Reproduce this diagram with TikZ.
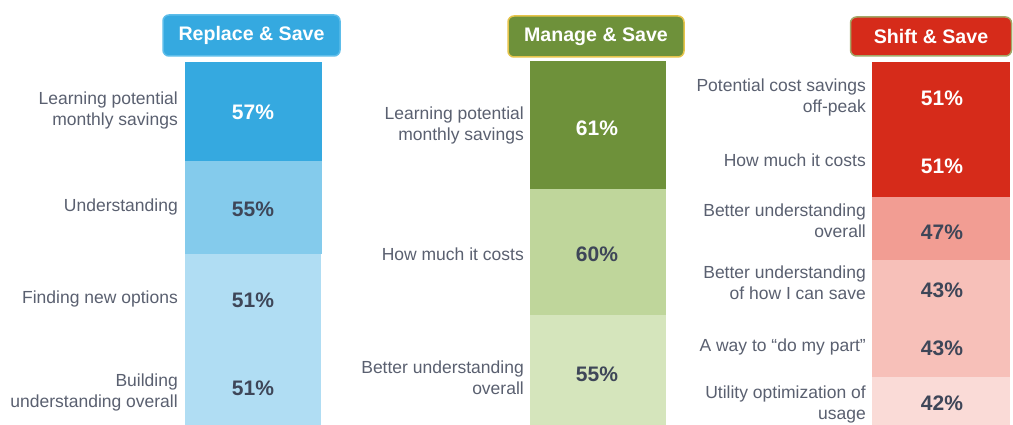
\documentclass[tikz,border=0pt]{standalone}
\usepackage{fontspec}
\setmainfont{Liberation Sans}
\definecolor{bdark}{HTML}{35A9E0}
\definecolor{bmed}{HTML}{84CBEC}
\definecolor{blight}{HTML}{B0DDF3}
\definecolor{bborder}{HTML}{5DBDEA}
\definecolor{gdark}{HTML}{6E913A}
\definecolor{gmed}{HTML}{BFD69B}
\definecolor{glight}{HTML}{D5E5BC}
\definecolor{gborder}{HTML}{E6C44A}
\definecolor{rdark}{HTML}{D62B1A}
\definecolor{rmed}{HTML}{F29D93}
\definecolor{rlight}{HTML}{F7C0B9}
\definecolor{rpale}{HTML}{FADBD7}
\definecolor{rborder}{HTML}{A3A868}
\definecolor{labelc}{HTML}{5A6070}
\definecolor{pctdark}{HTML}{3E4658}
\begin{document}
\begin{tikzpicture}[x=1pt,y=-1pt,
  header/.style={rounded corners=6pt, line width=1.5pt, text=white,
    font=\fontsize{19.6}{22}\selectfont\bfseries, inner sep=0pt, anchor=center},
  lbl/.style={anchor=east, align=right, text=labelc,
    font=\fontsize{17.5}{21}\selectfont, inner sep=0pt},
  pctw/.style={anchor=center, text=white, font=\fontsize{21}{24}\selectfont\bfseries, inner sep=0pt},
  pctd/.style={anchor=center, text=pctdark, font=\fontsize{21}{24}\selectfont\bfseries, inner sep=0pt}]
\useasboundingbox[fill=white] (0,0) rectangle (1013,425);

% ---- column 1: Replace & Save
\fill[bdark]  (185,62)  rectangle (322,161);
\fill[bmed]   (185,161) rectangle (322,254);
\fill[blight] (185,254) rectangle (321,425);
\node[header, fill=bdark, draw=bborder, minimum width=177pt, minimum height=41pt] (h1) at (251.5,35.5) {Replace \& Save};
\node[lbl] (l11) at (178,110) {Learning potential\\monthly savings};
\node[lbl] (l12) at (178,207) {Understanding};
\node[lbl] (l13) at (178,299) {Finding new options};
\node[lbl] (l14) at (178,392) {Building\\understanding overall};
\node[pctw] (p11) at (253,112) {57\%};
\node[pctd] (p12) at (253,209) {55\%};
\node[pctd] (p13) at (253,300) {51\%};
\node[pctd] (p14) at (253,388) {51\%};

% ---- column 2: Manage & Save
\fill[gdark]  (530,61)  rectangle (666,189);
\fill[gmed]   (530,189) rectangle (666,315);
\fill[glight] (530,315) rectangle (666,425);
\node[header, fill=gdark, draw=gborder, minimum width=176pt, minimum height=41pt] (h2) at (596,36.5) {Manage \& Save};
\node[lbl] (l21) at (524,125) {Learning potential\\monthly savings};
\node[lbl] (l22) at (524,254) {How much it costs};
\node[lbl] (l23) at (524,378) {Better understanding\\overall};
\node[pctw] (p21) at (597,128) {61\%};
\node[pctd] (p22) at (597,254) {60\%};
\node[pctd] (p23) at (597,374) {55\%};

% ---- column 3: Shift & Save
\fill[rdark]  (872,62)  rectangle (1010,197);
\fill[rmed]   (872,197) rectangle (1010,260);
\fill[rlight] (872,260) rectangle (1010,377);
\fill[rpale]  (872,377) rectangle (1010,425);
\node[header, fill=rdark, draw=rborder, minimum width=161pt, minimum height=39pt] (h3) at (931,36.5) {Shift \& Save};
\node[lbl] (l31) at (866,97) {Potential cost savings\\off-peak};
\node[lbl] (l32) at (866,160) {How much it costs};
\node[lbl] (l33) at (866,221) {Better understanding\\overall};
\node[lbl] (l34) at (866,283) {Better understanding\\of how I can save};
\node[lbl] (l35) at (866,347) {A way to “do my part”};
\node[lbl] (l36) at (866,404) {Utility optimization of\\usage};
\node[pctw] (p31) at (942,98) {51\%};
\node[pctw] (p32) at (942,166) {51\%};
\node[pctd] (p33) at (942,232) {47\%};
\node[pctd] (p34) at (942,290) {43\%};
\node[pctd] (p35) at (942,348) {43\%};
\node[pctd] (p36) at (942,403) {42\%};
\end{tikzpicture}
\end{document}
